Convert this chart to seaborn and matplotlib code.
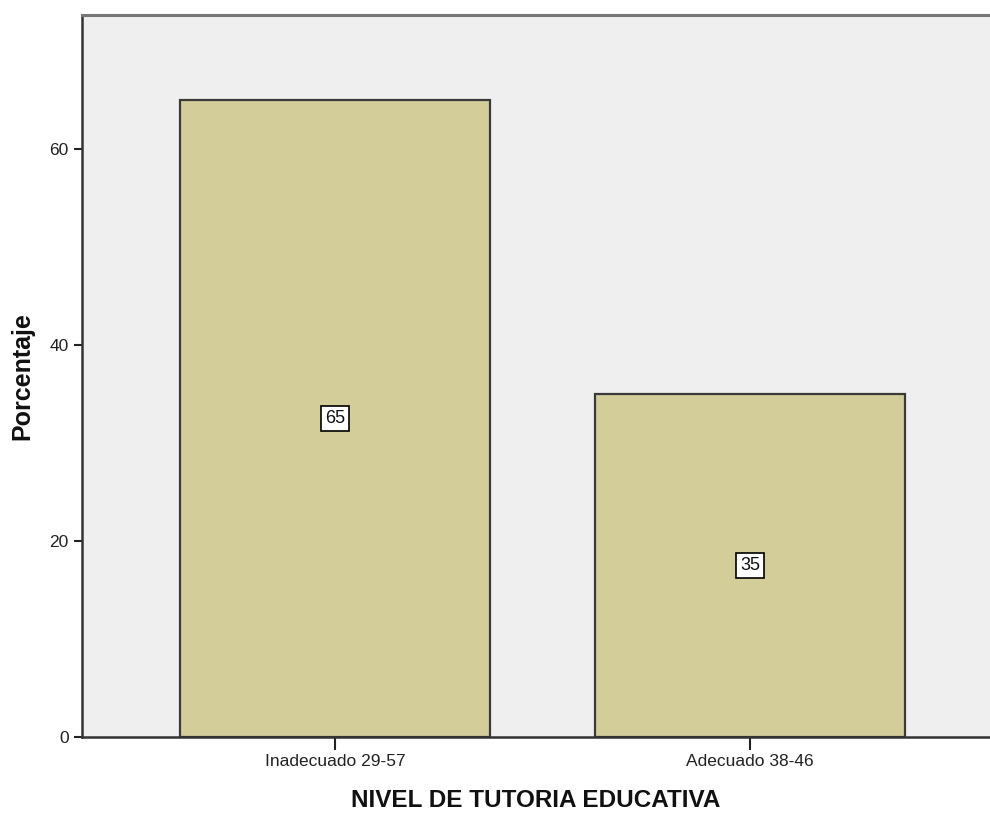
import pandas as pd
import seaborn as sns
import matplotlib.pyplot as plt

categorias = ["Inadecuado 29-57", "Adecuado 38-46"]
porcentajes = [65, 35]
yticks = [0, 20, 40, 60]

sns.set_style("white")
plt.rcParams["font.family"] = ["Liberation Sans", "DejaVu Sans"]

df = pd.DataFrame({"nivel": categorias, "pct": porcentajes})

fig = plt.figure(figsize=(9.9, 8.14), dpi=100)
ax = fig.add_axes([82 / 990, 77 / 814, 1 - 82 / 990, 722 / 814])
ax.set_facecolor("#EFEFEF")

sns.barplot(data=df, x="nivel", y="pct", color="#D3CE99", width=0.747,
            edgecolor="#3A3A3A", linewidth=1.6, saturation=1, ax=ax)

ax.set_xlim(-0.61, 1.578)
ax.set_ylim(0, 73.7)
ax.set_yticks(yticks)

for i, v in enumerate(porcentajes):
    ax.text(i, v / 2, str(v), ha="center", va="center", fontsize=13,
            color="#111111",
            bbox=dict(boxstyle="square,pad=0.22", facecolor="white",
                      edgecolor="black", linewidth=1.2))

ax.set_xlabel("NIVEL DE TUTORIA EDUCATIVA", fontsize=17.5, fontweight="bold",
              labelpad=14, color="#111111")
ax.set_ylabel("Porcentaje", fontsize=18, fontweight="bold", labelpad=11,
              color="#111111")
ax.tick_params(axis="both", labelsize=12.5, colors="#222222", direction="out")
ax.tick_params(axis="y", length=6, width=1.5, left=True)
ax.tick_params(axis="x", length=9, width=1.5, bottom=True)

for side in ["left", "bottom"]:
    ax.spines[side].set_color("#333333")
    ax.spines[side].set_linewidth(1.8)
ax.spines["top"].set_color("#777777")
ax.spines["top"].set_linewidth(2.2)
ax.spines["right"].set_visible(False)

fig.savefig("out.png", dpi=100)
